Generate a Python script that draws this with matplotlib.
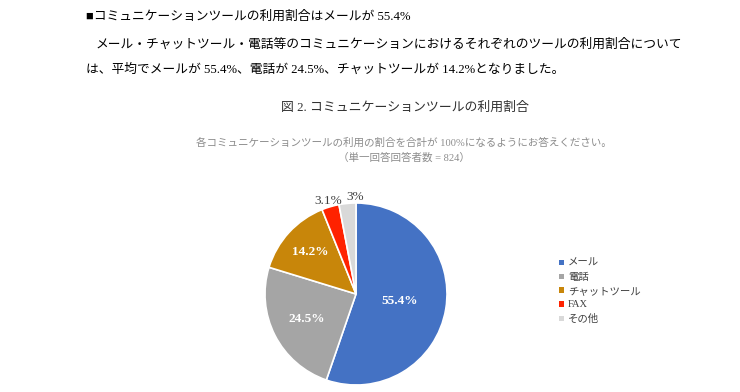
import numpy as np
import matplotlib
matplotlib.use("Agg")
import matplotlib.pyplot as plt

plt.rcParams['font.family'] = ['Liberation Serif', 'Noto Sans CJK JP', 'DejaVu Sans']

categories = ["メール", "電話", "チャットツール", "FAX", "その他"]
values = [55.4, 24.5, 14.2, 3.1, 3]
colors = ["#4472C4", "#A5A5A5", "#C8860A", "#FF2200", "#D9D9D9"]
label_dist = [0.49, 0.61, 0.68, 1.07, 1.07]
label_inside = [True, True, True, False, False]
label_ha = ["center", "center", "center", "center", "left"]

heading = "■コミュニケーションツールの利用割合はメールが 55.4%"
para1 = "メール・チャットツール・電話等のコミュニケーションにおけるそれぞれのツールの利用割合について"
para2 = "は、平均でメールが 55.4%、電話が 24.5%、チャットツールが 14.2%となりました。"
title = "図 2. コミュニケーションツールの利用割合"
sub1 = "各コミュニケーションツールの利用の割合を合計が 100%になるようにお答えください。"
sub2 = "（単一回答回答者数 = 824）"

W, H = 740, 392
fig = plt.figure(figsize=(W / 100, H / 100), dpi=100)
fig.patch.set_facecolor("white")

def fx(x):
    return x / W

def fy(y):
    return 1 - y / H

fig.text(fx(86), fy(17), heading, fontsize=9.2, va="center", ha="left", color="black")
fig.text(fx(96), fy(45), para1, fontsize=9.2, va="center", ha="left", color="black")
fig.text(fx(86), fy(70), para2, fontsize=9.2, va="center", ha="left", color="black")
fig.text(fx(405), fy(108), title, fontsize=9.3, va="center", ha="center", color="#303030")
fig.text(fx(404), fy(143), sub1, fontsize=7.6, va="center", ha="center", color="#8C8C8C")
fig.text(fx(404), fy(158), sub2, fontsize=7.6, va="center", ha="center", color="#8C8C8C")

cx, cy, r = 356, 294, 91
ax = fig.add_axes([fx(cx - r), 1 - (cy + r) / H, 2 * r / W, 2 * r / H])
wedges, _ = ax.pie(values, colors=colors, startangle=90, counterclock=False,
                   radius=1, wedgeprops=dict(edgecolor="white", linewidth=1.2))
ax.set_xlim(-1, 1)
ax.set_ylim(-1, 1)
ax.set_aspect("equal")
ax.axis("off")

for w, v, d, inside, ha in zip(wedges, values, label_dist, label_inside, label_ha):
    ang = np.deg2rad((w.theta1 + w.theta2) / 2)
    x, y = d * np.cos(ang), d * np.sin(ang)
    txt = f"{v:g}%"
    if inside:
        ax.text(x, y, txt, ha=ha, va="center", color="white",
                fontsize=9.5, fontweight="bold", clip_on=False)
    else:
        ax.text(x, y, txt, ha=ha, va="center", color="#404040",
                fontsize=9.5, clip_on=False)

leg = fig.legend(wedges, categories, loc="upper left",
                 bbox_to_anchor=(fx(555), fy(255)), frameon=False,
                 fontsize=7.5, handlelength=0.45, handleheight=0.45,
                 handletextpad=0.4, labelspacing=0.45, borderaxespad=0)
for h in leg.legend_handles:
    h.set_edgecolor("none")
for t in leg.get_texts():
    t.set_color("#404040")

fig.savefig("out.png", dpi=100, facecolor="white")
